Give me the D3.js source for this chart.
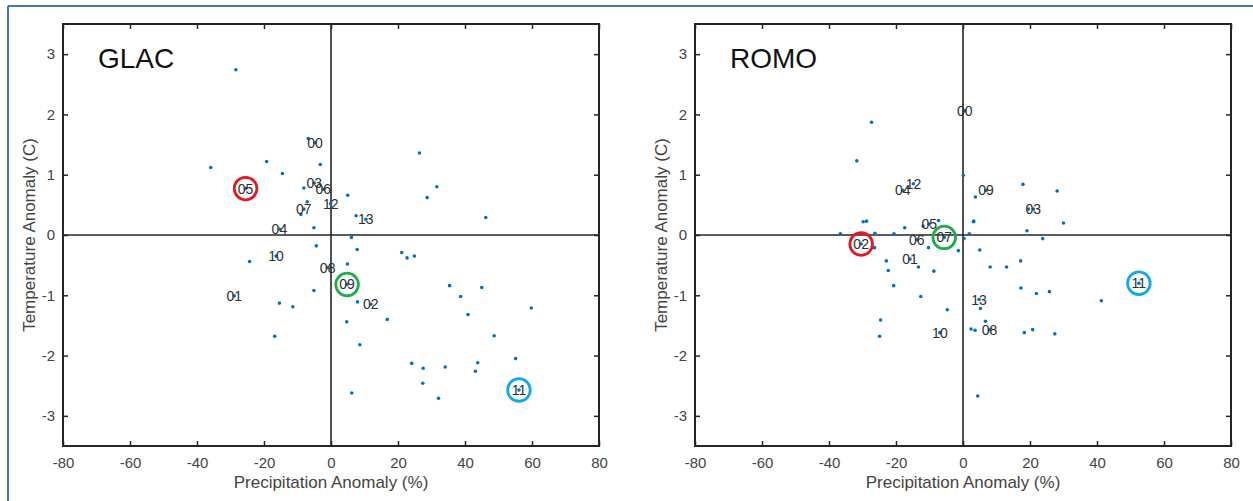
<!DOCTYPE html>
<html>
<head>
<meta charset="utf-8">
<script src="https://cdn.jsdelivr.net/npm/d3@7"></script>
<style>
  html, body { margin: 0; padding: 0; background: #ffffff; }
  svg { display: block; }
  text { font-family: "Liberation Sans", Arial, Helvetica, sans-serif; }
</style>
</head>
<body>
<svg id="chart" width="1253" height="501"></svg>
<script>
// ---- data -----------------------------------------------------------------
const xTicks = [-80, -60, -40, -20, 0, 20, 40, 60, 80];
const yTicks = [-3, -2, -1, 0, 1, 2, 3];
const xTitle = "Precipitation Anomaly (%)";
const yTitle = "Temperature Anomaly (C)";

// GLAC: labelled years (precipitation %, temperature C)
const glacYears  = ["00", "01", "02", "03", "04", "05", "06", "07", "08", "09", "10", "11", "12", "13"];
const glacYearP  = [-4.8, -28.9, 11.9, -5.0, -15.4, -25.5, -2.3, -8.1, -1.0, 4.8, -16.4, 56.1, -0.1, 10.4];
const glacYearT  = [1.53, -1.01, -1.15, 0.86, 0.10, 0.77, 0.76, 0.43, -0.54, -0.82, -0.35, -2.57, 0.52, 0.26];
// GLAC: other ensemble points
const glacP = [-28.4, -35.9, -19.2, -14.5, -8.1, -7.1, -9.0, -5.1, -6.8, -3.2, 5.0, 7.5, 6.1, -4.4, 7.8,
               4.9, -5.1, 7.9, -11.4, -15.4, 26.4, 31.6, 28.7, 46.2, -24.3, -16.8, 21.1, 22.7, 24.9, 35.4,
               45.0, 38.7, 59.8, 40.9, 16.8, 4.7, 48.7, 8.6, 55.1, 24.1, 43.8, 27.5, 34.1, 43.1, 27.4,
               6.2, 32.1];
const glacT = [2.74, 1.12, 1.22, 1.02, 0.78, 0.55, 0.34, 0.12, 1.60, 1.17, 0.66, 0.32, -0.04, -0.18, -0.24,
               -0.48, -0.92, -1.11, -1.19, -1.13, 1.36, 0.80, 0.62, 0.29, -0.44, -1.68, -0.29, -0.38, -0.35, -0.84,
               -0.87, -1.02, -1.21, -1.32, -1.40, -1.44, -1.67, -1.82, -2.05, -2.13, -2.12, -2.21, -2.19, -2.26, -2.46,
               -2.62, -2.71];
const glacCircled = ["05", "09", "11"];

// ROMO: labelled years
const romoYears  = ["00", "01", "02", "03", "04", "05", "06", "07", "08", "09", "10", "11", "12", "13"];
const romoYearP  = [0.5, -15.8, -30.4, 21.0, -18.0, -10.1, -13.8, -5.6, 7.9, 6.9, -6.9, 52.5, -14.8, 4.8];
const romoYearT  = [2.06, -0.40, -0.15, 0.43, 0.74, 0.18, -0.08, -0.04, -1.57, 0.74, -1.62, -0.80, 0.85, -1.07];
// ROMO: other ensemble points
const romoP = [-27.3, -31.7, -29.8, -28.8, -17.4, -36.6, -26.3, -20.6, -11.9, -7.3, 0.1, -26.4, -10.3, -1.4, 0.3,
               1.9, 3.1, -22.9, -22.3, -13.3, -8.7, -20.7, -12.6, -4.7, -24.6, -24.9, 2.4, 3.6, 17.9, 28.1,
               3.7, 19.5, 3.2, 30.0, 19.1, 23.8, 5.0, 17.2, 8.1, 13.0, 17.3, 25.8, 21.9, 5.2, 6.7,
               18.3, 20.8, 27.4, 41.3, 4.4];
const romoT = [1.87, 1.23, 0.22, 0.23, 0.12, 0.02, 0.03, 0.02, 0.15, 0.24, 0.99, -0.21, -0.21, -0.26, -0.06,
               0.02, 0.22, -0.43, -0.59, -0.53, -0.60, -0.84, -1.02, -1.24, -1.41, -1.68, -1.56, -1.58, 0.84, 0.73,
               0.63, 0.43, 0.23, 0.20, 0.07, -0.06, -0.25, -0.43, -0.53, -0.53, -0.88, -0.94, -0.97, -1.22, -1.43,
               -1.62, -1.57, -1.64, -1.09, -2.67];
const romoCircled = ["02", "07", "11"];

// ---- styles ---------------------------------------------------------------
const axisColor = "#262626";
const tickTextColor = "#444444";
const pointColor = "#0072BD";
const circleColors = ["#E8161E", "#1FAE4B", "#12A9EA"];

const svg = d3.select("#chart");

// page frame (top and left rules)
svg.append("line").attr("x1", 8).attr("x2", 1253).attr("y1", 6).attr("y2", 6)
  .attr("stroke", "#4472C4").attr("stroke-width", 2);
svg.append("line").attr("x1", 8).attr("x2", 8).attr("y1", 6).attr("y2", 501)
  .attr("stroke", "#4472C4").attr("stroke-width", 2);

function panel(opts) {
  const x = d3.scaleLinear().domain([-80, 80]).range([opts.left, opts.left + 536]);
  const y = d3.scaleLinear().domain([-3.5, 3.5]).range([446, 24]);
  const g = svg.append("g");
  const fmt = d => String(d);

  const styleAxis = sel => {
    sel.select(".domain").remove();
    sel.selectAll(".tick line").attr("stroke", axisColor).attr("stroke-width", 1.5);
    sel.selectAll(".tick text").attr("fill", tickTextColor)
      .style("font-size", "15px").style("font-family", "'Liberation Sans', Arial, sans-serif");
  };

  g.append("g").attr("transform", `translate(0,${y(-3.5)})`)
    .call(d3.axisBottom(x).tickValues(xTicks).tickFormat(fmt).tickSizeInner(-5).tickSizeOuter(0).tickPadding(11))
    .call(styleAxis);
  g.append("g").attr("transform", `translate(0,${y(3.5)})`)
    .call(d3.axisTop(x).tickValues(xTicks).tickFormat("").tickSizeInner(-5).tickSizeOuter(0))
    .call(styleAxis);
  g.append("g").attr("transform", `translate(${x(-80)},0)`)
    .call(d3.axisLeft(y).tickValues(yTicks).tickFormat(fmt).tickSizeInner(-5).tickSizeOuter(0).tickPadding(8))
    .call(styleAxis);
  g.append("g").attr("transform", `translate(${x(80)},0)`)
    .call(d3.axisRight(y).tickValues(yTicks).tickFormat("").tickSizeInner(-5).tickSizeOuter(0))
    .call(styleAxis);

  // zero lines
  g.append("line").attr("x1", x(0)).attr("x2", x(0)).attr("y1", y(3.5)).attr("y2", y(-3.5))
    .attr("stroke", axisColor).attr("stroke-width", 1.6);
  g.append("line").attr("x1", x(-80)).attr("x2", x(80)).attr("y1", y(0)).attr("y2", y(0))
    .attr("stroke", axisColor).attr("stroke-width", 1.6);

  // box
  g.append("rect").attr("x", x(-80)).attr("y", y(3.5))
    .attr("width", x(80) - x(-80)).attr("height", y(-3.5) - y(3.5))
    .attr("fill", "none").attr("stroke", axisColor).attr("stroke-width", 2);

  // ensemble points
  const pts = opts.P.map((p, i) => ({ p, t: opts.T[i] }));
  g.append("g").selectAll("circle").data(pts).join("circle")
    .attr("cx", d => x(d.p)).attr("cy", d => y(d.t)).attr("r", 1.8)
    .attr("fill", pointColor);

  // labelled years
  const yrs = opts.years.map((lab, i) => ({ lab, p: opts.yp[i], t: opts.yt[i] }));
  g.append("g").selectAll("circle").data(yrs).join("circle")
    .attr("cx", d => x(d.p)).attr("cy", d => y(d.t)).attr("r", 1.8)
    .attr("fill", pointColor);
  g.append("g").selectAll("text").data(yrs).join("text")
    .attr("x", d => x(d.p)).attr("y", d => y(d.t))
    .attr("text-anchor", "middle").attr("dominant-baseline", "central")
    .attr("fill", "#2e2e2e").style("font-size", "14px")
    .text(d => d.lab);

  // highlighted years
  opts.circled.forEach((lab, k) => {
    const d = yrs.find(v => v.lab === lab);
    g.append("circle").attr("cx", x(d.p)).attr("cy", y(d.t)).attr("r", 11.3)
      .attr("fill", "none").attr("stroke", circleColors[k]).attr("stroke-width", 2.8);
  });

  // panel title
  g.append("text").attr("x", opts.left + 35).attr("y", 68)
    .attr("fill", "#111111").style("font-size", "28px").text(opts.title);

  // axis titles
  g.append("text").attr("x", x(0)).attr("y", 488).attr("text-anchor", "middle")
    .attr("fill", tickTextColor).style("font-size", "17px").text(xTitle);
  g.append("text")
    .attr("transform", `translate(${opts.left - 28},${y(0)}) rotate(-90)`)
    .attr("text-anchor", "middle")
    .attr("fill", tickTextColor).style("font-size", "17px").text(yTitle);
}

panel({ left: 63, title: "GLAC", P: glacP, T: glacT,
        years: glacYears, yp: glacYearP, yt: glacYearT, circled: glacCircled });
panel({ left: 695, title: "ROMO", P: romoP, T: romoT,
        years: romoYears, yp: romoYearP, yt: romoYearT, circled: romoCircled });
</script>
</body>
</html>
